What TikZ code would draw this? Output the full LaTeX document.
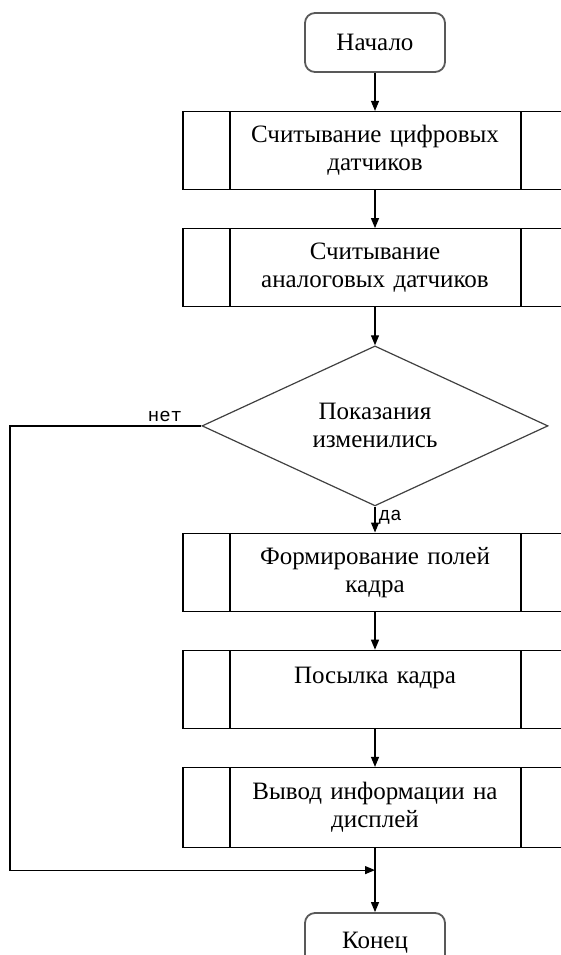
\documentclass[tikz,border=0pt]{standalone}
\usepackage{fontspec}
\setmainfont{Liberation Serif}
\newfontfamily\answerfont{Liberation Mono}
\usetikzlibrary{shapes.geometric,arrows.meta,positioning}

\begin{document}
\begin{tikzpicture}[x=1pt,y=1pt,
  terminal/.style={draw=black!65,line width=1.8pt,rounded corners=10pt,
    minimum width=140pt,minimum height=59pt,font=\rmfamily\fontsize{25}{28}\selectfont},
  subproc/.style={draw,rectangle,line width=1.2pt,minimum width=384pt,
    minimum height=78pt,text width=284pt,align=center,inner sep=0pt,
    font=\rmfamily\fontsize{25}{28}\selectfont,
    path picture={\draw[line width=1.2pt]
      ([xshift=47pt]path picture bounding box.north west) --
      ([xshift=47pt]path picture bounding box.south west)
      ([xshift=-46pt]path picture bounding box.north east) --
      ([xshift=-46pt]path picture bounding box.south east);}},
  decision/.style={draw=black!75,line width=1.2pt,diamond,aspect=2.1,
    minimum width=346pt,minimum height=160pt,inner sep=0pt,align=center,
    font=\rmfamily\fontsize{25}{28}\selectfont},
  answer/.style={font=\answerfont\fontsize{19}{22}\selectfont},
  arrow/.style={-{Triangle[length=10pt,width=8pt]},line width=1.2pt},
]
  \useasboundingbox (0,0) rectangle (560,-955);

  \node[terminal] (start) at (375,-42.5) {Начало};
  \node[subproc,below=38pt of start] (digital) {Считывание цифровых\\датчиков};
  \node[subproc,below=38pt of digital] (analog) {Считывание\\аналоговых датчиков};
  \node[decision,below=38pt of analog] (changed) {Показания\\изменились};
  \node[subproc,below=26pt of changed] (frame) {Формирование полей\\кадра};
  \node[subproc,below=38pt of frame] (send) {Посылка кадра\\\mbox{}};
  \node[subproc,below=38pt of send,minimum height=80pt] (display) {Вывод информации на\\дисплей};
  \node[terminal,below=64pt of display] (finish) {Конец};

  \coordinate (leftedge) at (10,0);
  \coordinate (join) at ([yshift=-22pt]display.south);

  \draw[arrow] (start) -- (digital);
  \draw[arrow] (digital) -- (analog);
  \draw[arrow] (analog) -- (changed);
  \draw[arrow] (changed) -- node[answer,pos=0.4,right] {да} (frame);
  \draw[arrow] (frame) -- (send);
  \draw[arrow] (send) -- (display);
  \draw[arrow] (display) -- (finish);
  \draw[arrow] (changed.west) -- node[answer,pos=0.19,above] {нет}
    (changed.west -| leftedge) |- (join);
\end{tikzpicture}
\end{document}
